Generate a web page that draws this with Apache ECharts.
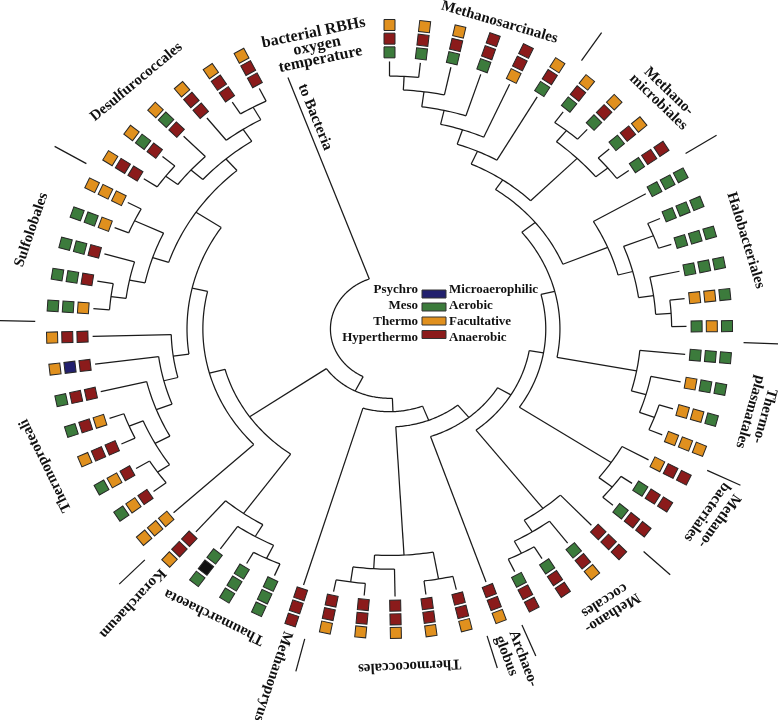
<!DOCTYPE html>
<html><head><meta charset="utf-8">
<script src="https://cdn.jsdelivr.net/npm/echarts@6/dist/echarts.min.js"></script>
<style>html,body{margin:0;padding:0;background:#fff}#c{width:778px;height:720px}</style>
</head><body><div id="c"></div>
<script>
// ---------------- DATA ----------------
// leaves are numbered clockwise from the top (0..56); 'B' = branch to Bacteria
const leafCount = 57;
// colour codes: G meso/aerobic, O thermo/facultative, R hyperthermo/anaerobic, N psychro/microaerophilic, K other
const rbhCodes   = "OOORROOOOR"+"GGGGGGGGGO"+"RRRRORROOO"+"OOORGGGOOG"+"GOGGOOGGGG"+"OOOOOOO";
const oxygenCodes= "RRRRRRRRRR"+"GGGGOOGGOO"+"RRRRRRRRRR"+"RRRRGGKROO"+"ORRRNRGGGG"+"ORGGRRR";
const tempCodes  = "GGGGOGGGGG"+"GGGGOGGOOO"+"OGGRGGGRRR"+"RRRRGGGROR"+"RRORRRORRO"+"ORRRRRR";

// tree topology (Newick); number after ':' = node depth (fraction of the outer ring)
const MS   = "(((((0,1):0.832,2):0.787,3):0.737,4):0.69,5):0.64";
const MM   = "((6,7):0.837,(8,9):0.836):0.79";
const Halo = "(10,((11,12):0.84,(13,(14,15):0.836):0.79):0.745):0.70";
const Tp   = "(16,(17,(18,19):0.837):0.79):0.745";
const Mb   = "(20,(21,22):0.84):0.79";
const Mc   = "(23,(24,(25,26):0.835):0.79):0.745";
const Tc   = "((28,29):0.835,(30,(31,32):0.84):0.79):0.745";
const Eury = "((((((("+MS+","+MM+"):0.594,"+Halo+"):0.556,"+Tp+"):0.505,"+Mb+"):0.463,"+Mc+"):0.42,27):0.374,"+Tc+"):0.322";
const EuryAll = "("+Eury+",33):0.272";
const Thaum = "((34,35):0.838,36):0.79";
const TK    = "("+Thaum+",37):0.745";
const Trest = "(((((39,40):0.833,(41,42):0.835):0.79,43):0.74,44):0.69,45):0.647";
const Sulfo = "(((46,47):0.832,48):0.787,(49,50):0.835):0.74";
const Desulfo = "(((51,52):0.832,53):0.787,(54,(55,56):0.834):0.787):0.74";
const Cren  = "(38,("+Trest+",("+Sulfo+","+Desulfo+"):0.69):0.6):0.553";
const TACK  = "("+TK+","+Cren+"):0.505";
const treeNewick = "(("+EuryAll+","+TACK+"):0.228,B):0.175";

const cladeNames = ['Methanosarcinales','Methano-\nmicrobiales','Halobacteriales','Thermo-\nplasmatales',
  'Methano-\nbacteriales','Methano-\ncoccales','Archaeo-\nglobus','Thermococcales','Methanopryus',
  'Thaumarchaeota','Korarchaeum','Thermoproteali','Sulfolobales','Desulfurococcales'];
const cladeFirst = [0,6,10,16,20,23,27,28,33,34,37,38,46,51];
const cladeLast  = [5,9,15,19,22,26,27,32,33,36,37,45,50,56];
const separatorAfter = [0,1,2,3,4,5,6,7,10,11,12];

const ringNames = ['bacterial RBHs','oxygen','temperature'];
const tempLegend = ['Psychro','Meso','Thermo','Hyperthermo'];
const oxyLegend  = ['Microaerophilic','Aerobic','Facultative','Anaerobic'];
const legendCodes = ['N','G','O','R'];

// ---------------- LAYOUT / STYLE ----------------
const COLORS = {G:'#3c7b3c', O:'#e0901e', R:'#8b1b1b', N:'#22206e', K:'#111111'};
const leafStep = 334.0/56;
const bacteriaAngle = 340;
const tipR = 0.88;
const ringR = [1.0, 0.955, 0.91];
const FONT = '"Liberation Serif","Times New Roman",serif';
const LINE = '#1a1a1a';

function parseNewick(s){
  let i=0;
  function node(){
    if(s[i]==='('){
      i++; const kids=[node()];
      while(s[i]===','){i++; kids.push(node());}
      i++;
      let r=0;
      if(s[i]===':'){i++; const j=i; while(i<s.length && /[0-9.]/.test(s[i])) i++; r=parseFloat(s.slice(j,i));}
      return {kids, r};
    }
    const j=i; while(i<s.length && /[0-9A-Za-z]/.test(s[i])) i++;
    return {leaf:s.slice(j,i)};
  }
  return node();
}
const tree = parseNewick(treeNewick);
function layout(n){
  if(n.leaf!==undefined){ n.a = n.leaf==='B'? bacteriaAngle : (+n.leaf)*leafStep; n.rr = tipR; return n.a; }
  n.kids.forEach(layout);
  n.a = (n.kids[0].a + n.kids[n.kids.length-1].a)/2; n.rr = n.r; return n.a;
}
layout(tree);
const arcs=[], stems=[];
(function collect(n){
  if(n.leaf!==undefined) return;
  arcs.push([n.kids[0].a, n.kids[n.kids.length-1].a, n.r]);
  n.kids.forEach(k=>{ stems.push([k.a, n.r, k.rr]); collect(k); });
})(tree);

function P(api,a,r){ const t=a*Math.PI/180; return api.coord([r*Math.sin(t), r*Math.cos(t)]); }
function dirAng(p0,p1){ return Math.atan2(p1[1]-p0[1], p1[0]-p0[0]); }

const treeSeries = {
  type:'custom', coordinateSystem:'cartesian2d', silent:true, data:[[0,0]],
  renderItem(params, api){
    const ch=[];
    arcs.forEach(([a1,a2,r])=>{
      const n=Math.max(2,Math.ceil(Math.abs(a2-a1)/0.8)); const pts=[];
      for(let k=0;k<=n;k++) pts.push(P(api,a1+(a2-a1)*k/n,r));
      ch.push({type:'polyline',shape:{points:pts},style:{stroke:LINE,lineWidth:1.25,fill:'none'}});
    });
    stems.forEach(([a,r0,r1])=>{
      ch.push({type:'polyline',shape:{points:[P(api,a,r0),P(api,a,r1)]},style:{stroke:LINE,lineWidth:1.25,fill:'none'}});
    });
    separatorAfter.forEach(ci=>{
      const a=(cladeLast[ci]*leafStep + cladeFirst[ci+1]*leafStep)/2;
      ch.push({type:'polyline',shape:{points:[P(api,a,1.05),P(api,a,1.16)]},style:{stroke:LINE,lineWidth:1.25,fill:'none'}});
    });
    return {type:'group',children:ch};
  }
};

const sqData=[];
for(let i=0;i<leafCount;i++){
  [rbhCodes,oxygenCodes,tempCodes].forEach((codes,ring)=>{ sqData.push([i, ring, 'GORNK'.indexOf(codes[i])]); });
}
const squareSeries = {
  type:'custom', coordinateSystem:'cartesian2d', silent:true, data:sqData,
  renderItem(params, api){
    const i=api.value(0), ring=api.value(1), c='GORNK'[api.value(2)];
    const a=i*leafStep, r=ringR[ring];
    const p=P(api,a,r), ang=dirAng(P(api,a,r-0.01),P(api,a,r+0.01));
    return {type:'rect', x:p[0], y:p[1], rotation:-ang,
      shape:{x:-5.5,y:-5.5,width:11,height:11},
      style:{fill:COLORS[c], stroke:'#262626', lineWidth:1}};
  }
};

const labelLayout = {
  'Methanosarcinales':{r:1.06,da:3},
  'Methano-\nmicrobiales':{r:1.115,da:2},
  'Halobacteriales':{r:1.095,da:0},
  'Thermo-\nplasmatales':{r:1.125,da:0},
  'Methano-\nbacteriales':{r:1.14,da:-2.5},
  'Methano-\ncoccales':{r:1.12,da:-1.5},
  'Archaeo-\nglobus':{r:1.06,da:0,radial:true},
  'Thermococcales':{r:1.11,da:-2},
  'Methanopryus':{r:1.04,da:0,radial:true},
  'Thaumarchaeota':{r:1.08,da:0},
  'Korarchaeum':{r:1.04,da:-0.5,radial:true},
  'Thermoproteali':{r:1.114,da:-1.3},
  'Sulfolobales':{r:1.11,da:0.8},
  'Desulfurococcales':{r:1.106,da:-1.8}
};
const labelSeries = {
  type:'custom', coordinateSystem:'cartesian2d', silent:true, data:cladeNames.map((n,i)=>[i,0]),
  renderItem(params, api){
    const ci=api.value(0), name=cladeNames[ci], L=labelLayout[name];
    const a=(cladeFirst[ci]+cladeLast[ci])/2*leafStep + L.da;
    const p=P(api,a,L.r);
    let ang, align='center';
    if(L.radial){ ang=dirAng(P(api,a,L.r),P(api,a,L.r+0.01)); align='left'; }
    else ang=dirAng(P(api,a-0.5,L.r),P(api,a+0.5,L.r));
    return {type:'text', x:p[0], y:p[1], rotation:-ang,
      style:{text:name, font:'bold 15px '+FONT, fill:'#111', align, verticalAlign:'middle', lineHeight:15}};
  }
};
const extraSeries = {
  type:'custom', coordinateSystem:'cartesian2d', silent:true, data:[[0,0]],
  renderItem(params, api){
    const ch=[];
    ringNames.forEach((t,k)=>{
      const a=347, r=ringR[k]; const p=P(api,a,r);
      const ang=dirAng(P(api,a-0.5,r),P(api,a+0.5,r));
      ch.push({type:'text',x:p[0],y:p[1],rotation:-ang,style:{text:t,font:'bold 16px '+FONT,fill:'#111',align:'center',verticalAlign:'middle'}});
    });
    const p=P(api,342.4,0.731), ang=dirAng(P(api,bacteriaAngle,0.8),P(api,bacteriaAngle,0.6));
    ch.push({type:'text',x:p[0],y:p[1],rotation:-ang,style:{text:'to Bacteria',font:'bold 15px '+FONT,fill:'#111',align:'center',verticalAlign:'middle'}});
    return {type:'group',children:ch};
  }
};

const legendEls=[];
const rowY=[290,306,322,337.5];
tempLegend.forEach((t,k)=>{
  legendEls.push({type:'text',x:418,y:rowY[k],style:{text:t,font:'bold 13px '+FONT,fill:'#111',align:'right',verticalAlign:'middle'}});
  legendEls.push({type:'rect',shape:{x:422,y:rowY[k]-4+ [4,1,-1,-3][k],width:24,height:8},style:{fill:COLORS[legendCodes[k]],stroke:'#333',lineWidth:1}});
  legendEls.push({type:'text',x:449,y:rowY[k],style:{text:oxyLegend[k],font:'bold 13px '+FONT,fill:'#111',align:'left',verticalAlign:'middle'}});
});

const chart = echarts.init(document.getElementById('c'));
chart.setOption({
  animation:false,
  grid:{left:0,right:0,top:0,bottom:0},
  xAxis:{type:'value',min:-1.1541,max:1.1511,show:false},
  yAxis:{type:'value',min:-1.2862,max:1.0822,show:false},
  graphic:legendEls,
  series:[treeSeries, squareSeries, labelSeries, extraSeries]
});
</script></body></html>
